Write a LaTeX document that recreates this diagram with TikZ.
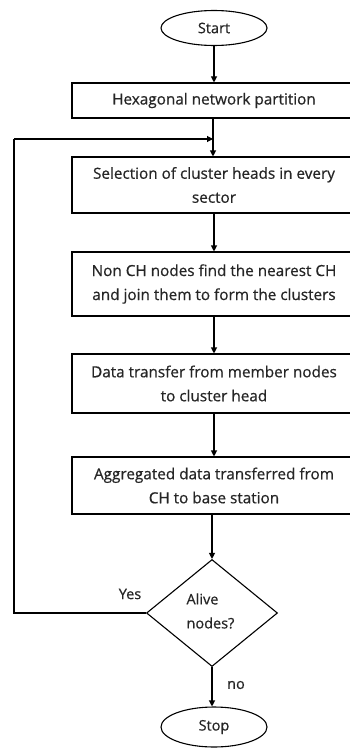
\documentclass[tikz,border=0pt]{standalone}
\usepackage{fontspec}
\setmainfont{Open Sans}
\newfontfamily\diagfont{Open Sans}[FakeBold=0.6]
\usetikzlibrary{shapes.geometric,arrows.meta}
\begin{document}
\begin{tikzpicture}[x=1pt,y=-1pt,
  every node/.style={font=\diagfont\fontsize{15.3}{24}\selectfont, text=black!85},
  procbox/.style={draw, line width=1.1pt, minimum width=284pt, align=center, inner sep=0pt},
  term/.style={draw, ellipse, line width=1.1pt, minimum width=106pt, inner sep=0pt},
  decision/.style={draw, diamond, line width=1.1pt, minimum width=131pt, minimum height=107pt, inner sep=0pt},
  conn/.style={line width=1.1pt, -{Triangle[length=6pt,width=6pt]}},
  plainline/.style={line width=1.1pt}]
\useasboundingbox (0,0) rectangle (349,749);
\fill[white] (0,0) rectangle (349,749);
\node[term, minimum height=35pt, font=\diagfont\fontsize{14.5}{24}\selectfont] (start) at (214,28) {Start};
\node[procbox, minimum height=35pt] (b1) at (214,100.5) {Hexagonal network partition};
\node[procbox, minimum height=56pt] (b2) at (214,185) {Selection of cluster heads in every\\sector};
\node[procbox, minimum height=64pt] (b3) at (214,284) {Non CH nodes find the nearest CH\\and join them to form the clusters};
\node[procbox, minimum height=59pt] (b4) at (214,383.5) {Data transfer from member nodes\\to cluster head};
\node[procbox, minimum height=57pt] (b5) at (214,485.5) {Aggregated data transferred from\\CH to base station};
\node[decision] (d) at (212,613) {};
\node[align=left, anchor=west, font=\diagfont\fontsize{14.5}{24}\selectfont] (dt) at (183,611) {Alive\\nodes?};
\node[term, minimum height=40pt, font=\diagfont\fontsize{14.5}{24}\selectfont] (stop) at (214,727) {Stop};
\node[font=\diagfont\fontsize{14.5}{24}\selectfont] (yes) at (130,594) {Yes};
\node[font=\diagfont\fontsize{14.5}{24}\selectfont] (no) at (236,685) {no};
\coordinate (lc) at (14,613);
\coordinate (tc) at (14,139);
\coordinate (jn) at (213,139);
\draw[conn] (start) -- (b1);
\draw[conn] (b1.south -| jn) -- (b2.north -| jn);
\draw[plainline] (d.west) -- (lc) -- (tc);
\draw[conn] (tc) -- (jn);
\draw[conn] (b2) -- (b3);
\draw[conn] (b3) -- (b4);
\draw[conn] (b4) -- (b5);
\draw[conn] (b5.south -| d.north) -- (d.north);
\draw[conn] (d.south) -- (d.south |- stop.north);
\end{tikzpicture}
\end{document}
